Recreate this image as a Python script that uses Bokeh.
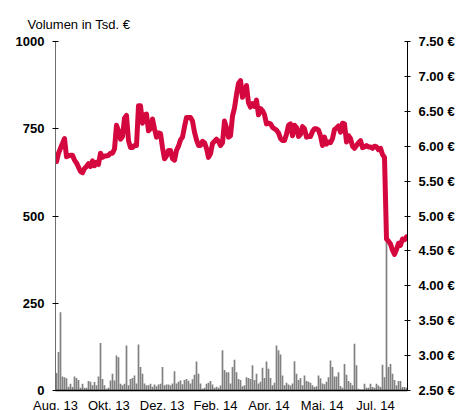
from bokeh.plotting import figure
from bokeh.models import (Range1d, LinearAxis, FixedTicker, CustomJSTickFormatter,
                          PrintfTickFormatter, ColumnDataSource)
from bokeh.embed import file_html
from bokeh.resources import INLINE

# ---- data ----
month_labels = ["Aug. 13", "Okt. 13", "Dez. 13", "Feb. 14", "Apr. 14", "Mai. 14", "Jul. 14"]
month_tick_idx = [-0.5, 26.17, 52.83, 79.5, 106.17, 132.83, 159.5]
volume_ticks = [0, 250, 500, 750, 1000]
price_ticks = [2.5, 3.0, 3.5, 4.0, 4.5, 5.0, 5.5, 6.0, 6.5, 7.0, 7.5]

price = [5.78, 5.90, 5.97, 6.04, 6.11, 5.85, 5.86, 5.87, 5.87, 5.80,
         5.76, 5.70, 5.64, 5.62, 5.68, 5.71, 5.75, 5.71, 5.79, 5.72,
         5.77, 5.74, 5.90, 5.84, 5.86, 5.86, 5.87, 5.90, 5.90, 5.96,
         6.30, 6.22, 6.10, 6.14, 6.40, 6.44, 6.08, 5.98, 5.98, 6.01,
         6.01, 6.58, 6.58, 6.33, 6.45, 6.46, 6.22, 6.25, 6.39, 6.25,
         6.13, 6.19, 6.18, 5.98, 5.82, 5.86, 5.94, 5.94, 5.82, 5.80,
         5.94, 6.00, 6.09, 6.13, 6.28, 6.41, 6.41, 6.41, 6.36, 6.20,
         6.09, 6.01, 6.01, 6.07, 6.05, 5.97, 5.84, 5.89, 6.04, 6.07,
         6.10, 6.07, 6.01, 6.05, 6.36, 6.26, 6.13, 6.15, 6.43, 6.55,
         6.74, 6.90, 6.94, 6.70, 6.80, 6.87, 6.62, 6.56, 6.61, 6.57,
         6.66, 6.45, 6.54, 6.51, 6.45, 6.32, 6.33, 6.32, 6.27, 6.25,
         6.23, 6.19, 6.11, 6.08, 6.08, 6.17, 6.30, 6.32, 6.15, 6.30,
         6.27, 6.14, 6.17, 6.28, 6.25, 6.13, 6.14, 6.14, 6.21, 6.25,
         6.25, 6.23, 6.15, 6.01, 6.13, 6.03, 6.06, 6.05, 6.11, 6.24,
         6.26, 6.29, 6.20, 6.33, 6.32, 6.06, 6.15, 6.11, 6.00, 5.97,
         6.01, 6.05, 6.08, 5.98, 5.99, 6.01, 5.99, 5.99, 5.97, 6.00,
         5.99, 5.95, 5.97, 5.88, 5.84, 4.67, 4.64, 4.60, 4.51, 4.45,
         4.52, 4.61, 4.58, 4.67, 4.66, 4.70]

volume = [50, 110, 224, 40, 38, 35, 11, 19, 10, 40,
          36, 30, 8, 19, 8, 8, 27, 25, 15, 24,
          15, 40, 136, 33, 15, 5, 8, 29, 48, 29,
          100, 95, 19, 15, 19, 129, 15, 33, 36, 43,
          20, 132, 67, 48, 20, 15, 15, 19, 11, 17,
          12, 17, 19, 67, 15, 17, 17, 15, 20, 55,
          20, 25, 29, 18, 30, 33, 28, 20, 32, 45,
          83, 48, 20, 5, 8, 19, 22, 27, 17, 8,
          11, 8, 14, 115, 59, 52, 52, 20, 67, 88,
          52, 33, 30, 12, 15, 38, 36, 33, 72, 30,
          48, 20, 25, 65, 36, 83, 62, 36, 15, 22,
          129, 115, 103, 43, 15, 22, 17, 14, 20, 84,
          48, 30, 36, 15, 43, 27, 25, 22, 15, 10,
          12, 43, 35, 20, 18, 25, 38, 86, 67, 40,
          40, 52, 13, 8, 76, 45, 27, 22, 15, 134,
          72, 5, 3, 3, 19, 8, 8, 19, 10, 8,
          19, 14, 10, 74, 38, 435, 67, 76, 48, 30,
          15, 27, 27, 10, 10, 8]

N = len(price)
src = ColumnDataSource(dict(i=list(range(N)), price=price, volume=volume))

FONT = "Liberation Sans"
LINE_RED = "#D5073F"
BAR_GREY = "#818181"

p = figure(width=458, height=416, output_backend="svg", toolbar_location=None,
           x_range=Range1d(-0.5, N - 0.5), y_range=Range1d(0, 1000),
           min_border_left=55, min_border_right=51, min_border_top=41, min_border_bottom=26,
           title="Volumen in Tsd. €")
p.extra_y_ranges = {"price": Range1d(2.5, 7.5)}

p.outline_line_color = None
p.xgrid.visible = False
p.ygrid.visible = False
p.background_fill_color = "white"
p.border_fill_color = "white"

p.title.text_font = FONT
p.title.text_font_size = "13px"
p.title.text_font_style = "normal"
p.title.text_color = "black"
p.title.align = "left"
p.title.offset = -28
p.title.standoff = 20

# volume bars
p.vbar(x="i", top="volume", bottom=0, width=0.85, source=src,
       fill_color=BAR_GREY, line_color=None)

# price line
p.line(x="i", y="price", source=src, y_range_name="price",
       line_color=LINE_RED, line_width=5, line_join="round", line_cap="round")

# left axis
ya = p.yaxis[0]
ya.ticker = FixedTicker(ticks=volume_ticks)
ya.axis_line_color = "#6e6e6e"
ya.major_tick_in = 3
ya.major_tick_out = 3
ya.major_tick_line_color = "black"
ya.minor_tick_line_color = None
ya.major_label_text_font = FONT
ya.major_label_text_font_size = "13px"
ya.major_label_text_font_style = "bold"
ya.major_label_text_color = "black"
ya.major_label_standoff = 8

# right axis
ra = LinearAxis(y_range_name="price", ticker=FixedTicker(ticks=price_ticks),
                formatter=PrintfTickFormatter(format="%.2f €"))
ra.axis_line_color = "black"
ra.major_tick_in = 3
ra.major_tick_out = 3
ra.major_tick_line_color = "black"
ra.minor_tick_line_color = None
ra.major_label_text_font = FONT
ra.major_label_text_font_size = "13px"
ra.major_label_text_font_style = "bold"
ra.major_label_text_color = "black"
ra.major_label_standoff = 8
p.add_layout(ra, "right")

# bottom axis
xa = p.xaxis[0]
xa.ticker = FixedTicker(ticks=month_tick_idx)
xa.formatter = CustomJSTickFormatter(args=dict(labels=month_labels, pos=month_tick_idx), code="""
let best = 0;
for (let k = 0; k < pos.length; k++) {
  if (Math.abs(pos[k] - tick) < Math.abs(pos[best] - tick)) best = k;
}
return labels[best];
""")
xa.axis_line_color = "black"
xa.axis_line_width = 1.5
xa.major_tick_in = 0
xa.major_tick_out = 0
xa.minor_tick_line_color = None
xa.major_label_text_font = FONT
xa.major_label_text_font_size = "13px"
xa.major_label_text_color = "black"
xa.major_label_standoff = 7

open("out.html", "w").write(file_html(p, INLINE))
